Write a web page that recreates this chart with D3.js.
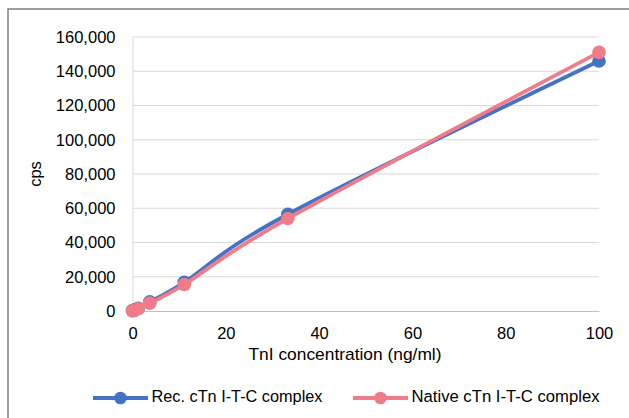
<!DOCTYPE html>
<html>
<head>
<meta charset="utf-8">
<script src="https://cdn.jsdelivr.net/npm/d3@7"></script>
<style>
  body { margin: 0; background: #fff; }
  svg text { font-family: "Liberation Sans", Arial, sans-serif; fill: #000; }
</style>
</head>
<body>
<div id="graph"></div>
<script>
// values
const conc = [0, 0.41, 1.23, 3.7, 11.1, 33.3, 100];
const recValues = [200, 500, 1600, 5300, 16800, 56500, 146000];
const nativeValues = [150, 400, 1300, 4600, 15500, 54000, 151000];
const seriesNames = ['Rec. cTn I-T-C complex', 'Native cTn I-T-C complex'];
const seriesColors = ['#4472C4', '#F07C89'];
const xTicks = [0, 20, 40, 60, 80, 100];
const yTicks = [0, 20000, 40000, 60000, 80000, 100000, 120000, 140000, 160000];

const W = 629, H = 418;
const svg = d3.select('#graph').append('svg')
    .attr('width', W)
    .attr('height', H);

// chart frame (right / bottom edges fall outside the picture)
svg.append('rect')
    .attr('x', 8).attr('y', 9)
    .attr('width', 640).attr('height', 430)
    .attr('fill', '#fff')
    .attr('stroke', '#808080')
    .attr('stroke-width', 1.5);

const x = d3.scaleLinear().domain([0, 100]).range([132.5, 599]);
const y = d3.scaleLinear().domain([0, 160000]).range([311, 37]);

// gridlines
svg.append('g')
    .selectAll('line')
    .data(yTicks.slice(1))
    .enter()
    .append('line')
    .attr('x1', x(0)).attr('x2', x(100))
    .attr('y1', d => y(d)).attr('y2', d => y(d))
    .attr('stroke', '#D9D9D9')
    .attr('stroke-width', 1);

// y axis
const yAxis = svg.append('g')
    .attr('transform', `translate(${x(0)},0)`)
    .call(d3.axisLeft(y).tickValues(yTicks).tickFormat(d3.format(',')).tickSize(0).tickPadding(17));
yAxis.select('.domain').attr('stroke', '#D9D9D9').attr('stroke-width', 1);
yAxis.selectAll('text').attr('font-size', 16.5).style('font-family', null);

// x axis
const xAxis = svg.append('g')
    .attr('transform', `translate(0,${y(0)})`)
    .call(d3.axisBottom(x).tickValues(xTicks).tickSize(0).tickPadding(16));
xAxis.select('.domain').attr('stroke', '#BFBFBF').attr('stroke-width', 1);
xAxis.selectAll('text').attr('font-size', 16.5).style('font-family', null);

// axis titles
svg.append('text')
    .attr('transform', `translate(37,${(y(0) + y(160000)) / 2}) rotate(-90)`)
    .attr('text-anchor', 'middle')
    .attr('dominant-baseline', 'middle')
    .attr('font-size', 16.5)
    .text('cps');

svg.append('text')
    .attr('x', 345).attr('y', 356)
    .attr('text-anchor', 'middle')
    .attr('dominant-baseline', 'middle')
    .attr('font-size', 17)
    .attr('textLength', 193)
    .attr('lengthAdjust', 'spacingAndGlyphs')
    .text('TnI concentration (ng/ml)');

// series
const series = [recValues, nativeValues];
const line = d3.line()
    .x((d, i) => x(conc[i]))
    .y(d => y(d))
    .curve(d3.curveCardinal.tension(0));

series.forEach((vals, s) => {
    const g = svg.append('g');
    g.append('path')
        .datum(vals)
        .attr('d', line)
        .attr('fill', 'none')
        .attr('stroke', seriesColors[s])
        .attr('stroke-width', 3.8)
        .attr('stroke-linejoin', 'round');
    g.selectAll('circle')
        .data(vals)
        .enter()
        .append('circle')
        .attr('cx', (d, i) => x(conc[i]))
        .attr('cy', d => y(d))
        .attr('r', 6.8)
        .attr('fill', seriesColors[s]);
});

// legend
const legendX = [93, 353];
const legendW = [171, 188];
const legend = svg.append('g');
seriesNames.forEach((name, s) => {
    const lg = legend.append('g').attr('transform', `translate(${legendX[s]},398)`);
    lg.append('line')
        .attr('x1', 0).attr('x2', 55)
        .attr('stroke', seriesColors[s])
        .attr('stroke-width', 3.8);
    lg.append('circle')
        .attr('cx', 27.5).attr('r', 6.3)
        .attr('fill', seriesColors[s]);
    lg.append('text')
        .attr('x', 58.5)
        .attr('dominant-baseline', 'middle')
        .attr('font-size', 16.3)
        .attr('textLength', legendW[s])
        .attr('lengthAdjust', 'spacingAndGlyphs')
        .text(name);
});
</script>
</body>
</html>
